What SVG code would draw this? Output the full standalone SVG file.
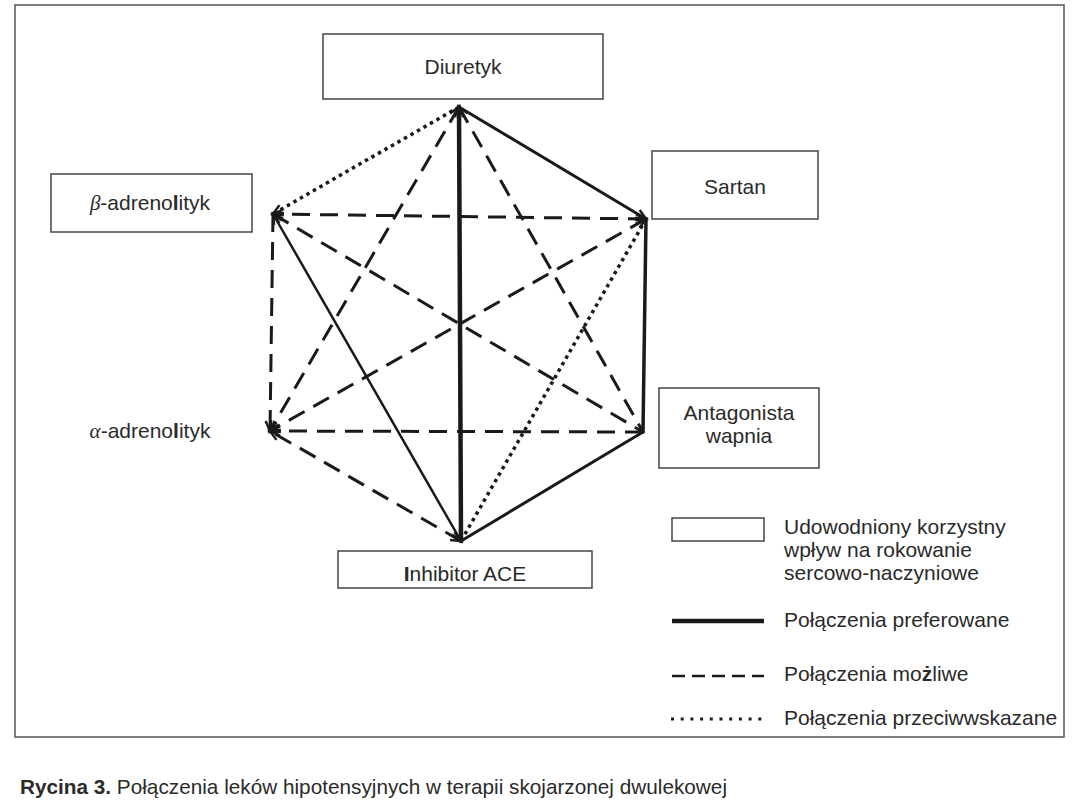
<svg xmlns="http://www.w3.org/2000/svg" width="1080" height="810" viewBox="0 0 1080 810">
  <style>
    .lbl { font-family: "Liberation Sans", Arial, sans-serif; font-size: 21px; fill: #2a2a2a; }
    .box { fill: #fff; stroke: #444; stroke-width: 1.5; }
    .solid { stroke: #1a1a1a; fill: none; stroke-linecap: round; }
    .dash { stroke: #1a1a1a; fill: none; stroke-width: 3; stroke-dasharray: 18 10; }
    .dot { stroke: #1a1a1a; fill: none; stroke-width: 3.5; stroke-dasharray: 3.5 4; }
    .greek { font-family: "Liberation Serif", "DejaVu Serif", serif; font-style: italic; }
  </style>
  <defs>
    <marker id="ah" markerUnits="userSpaceOnUse" markerWidth="16" markerHeight="16" refX="0" refY="0" viewBox="-12 -8 14 16" orient="auto-start-reverse">
      <path d="M-10,-4.5 L0,0 L-10,4.5" fill="none" stroke="#1a1a1a" stroke-width="2.5" stroke-dasharray="none"/>
    </marker>
  </defs>
  <rect width="1080" height="810" fill="#fff"/>
  <rect x="15" y="5" width="1049" height="732" fill="none" stroke="#555" stroke-width="1.5"/>

  <g id="connectors">
    <!-- dotted -->
    <line class="dot" x1="459" y1="107" x2="273" y2="214" marker-end="url(#ah)"/>
    <line class="dot" x1="646" y1="219" x2="461" y2="541"/>
    <!-- solid -->
    <line class="solid" stroke-width="4.5" x1="459" y1="107" x2="461" y2="541" marker-start="url(#ah)"/>
    <line class="solid" stroke-width="3" x1="459" y1="107" x2="646" y2="219" marker-end="url(#ah)"/>
    <line class="solid" stroke-width="3.5" x1="646" y1="219" x2="643" y2="432"/>
    <line class="solid" stroke-width="3" x1="643" y1="432" x2="461" y2="541"/>
    <line class="solid" stroke-width="2.5" x1="461" y1="541" x2="273" y2="214" marker-start="url(#ah)" marker-end="url(#ah)"/>
    <!-- dashed -->
    <line class="dash" x1="459" y1="107" x2="270" y2="431" marker-start="url(#ah)" marker-end="url(#ah)"/>
    <line class="dash" x1="459" y1="107" x2="643" y2="432" marker-start="url(#ah)"/>
    <line class="dash" x1="646" y1="219" x2="273" y2="214" marker-start="url(#ah)" marker-end="url(#ah)"/>
    <line class="dash" x1="273" y1="214" x2="270" y2="431" marker-end="url(#ah)"/>
    <line class="dash" x1="273" y1="214" x2="643" y2="432" marker-start="url(#ah)"/>
    <line class="dash" x1="646" y1="219" x2="270" y2="431" marker-start="url(#ah)" marker-end="url(#ah)"/>
    <line class="dash" x1="643" y1="432" x2="270" y2="431" marker-end="url(#ah)"/>
    <line class="dash" x1="461" y1="541" x2="270" y2="431" marker-start="url(#ah)" marker-end="url(#ah)"/>
  </g>

  <g id="node-diuretyk">
    <rect class="box" x="323" y="34" width="280" height="65"/>
    <text class="lbl" x="463" y="74" text-anchor="middle">Diuretyk</text>
  </g>
  <g id="node-beta">
    <rect class="box" x="51" y="174" width="201" height="58"/>
    <text class="lbl" x="150" y="210" text-anchor="middle"><tspan class="greek">β</tspan>-adreno<tspan font-weight="bold">l</tspan>ityk</text>
  </g>
  <g id="node-sartan">
    <rect class="box" x="652" y="151" width="166" height="68"/>
    <text class="lbl" x="735" y="194" text-anchor="middle">Sartan</text>
  </g>
  <g id="node-alpha">
    <text class="lbl" x="150" y="438" text-anchor="middle"><tspan class="greek">α</tspan>-adreno<tspan font-weight="bold">l</tspan>ityk</text>
  </g>
  <g id="node-antagonista">
    <rect class="box" x="659" y="388" width="160" height="80"/>
    <text class="lbl" x="739" y="420" text-anchor="middle">Antagonista</text>
    <text class="lbl" x="739" y="443" text-anchor="middle">wapnia</text>
  </g>
  <g id="node-inhibitor">
    <rect class="box" x="338" y="551" width="254" height="37"/>
    <text class="lbl" x="465" y="581" text-anchor="middle"><tspan font-weight="bold">I</tspan>nhibitor ACE</text>
  </g>

  <g id="legend">
    <rect class="box" x="672" y="518" width="92" height="23"/>
    <text class="lbl" x="784" y="534">Udowodniony korzystny</text>
    <text class="lbl" x="784" y="557">wpływ na rokowanie</text>
    <text class="lbl" x="784" y="580">sercowo-naczyniowe</text>
    <line x1="672" y1="621" x2="764" y2="621" stroke="#1a1a1a" stroke-width="4.5"/>
    <text class="lbl" x="784" y="627">Połączenia preferowane</text>
    <line x1="672" y1="676" x2="764" y2="676" stroke="#1a1a1a" stroke-width="2.5" stroke-dasharray="13 7"/>
    <text class="lbl" x="784" y="681">Połączenia mo<tspan font-weight="bold">ż</tspan>liwe</text>
    <line x1="671" y1="719" x2="766" y2="719" stroke="#1a1a1a" stroke-width="3" stroke-dasharray="3 6.7"/>
    <text class="lbl" x="784" y="725">Połączenia przeciwwskazane</text>
  </g>

  <text class="lbl" x="20" y="794" font-size="19" textLength="707" lengthAdjust="spacingAndGlyphs"><tspan font-weight="bold">Rycina 3.</tspan> Połączenia leków hipotensyjnych w terapii skojarzonej dwulekowej</text>
</svg>
